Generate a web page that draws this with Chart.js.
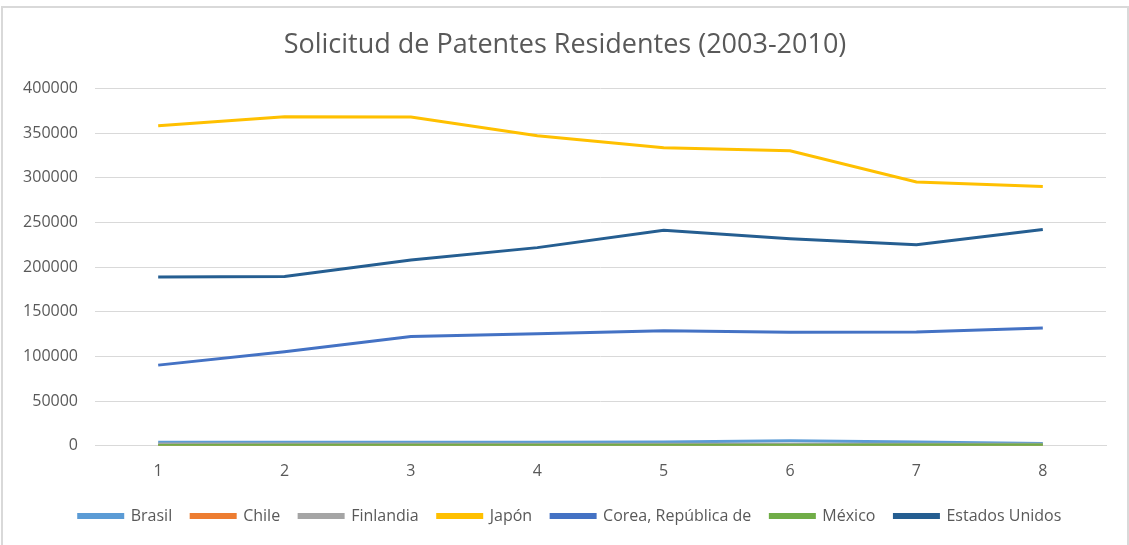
<!DOCTYPE html>
<html>
<head>
<meta charset="utf-8">
<script src="https://cdn.jsdelivr.net/npm/chart.js@4"></script>
<style>
  html, body { margin: 0; padding: 0; background: #fff; }
  #frame {
    position: absolute; left: 1px; top: 6px;
    width: 1124px; height: 545px;
    border: 2px solid #d9d9d9; border-bottom: none;
  }
  #wrap { position: absolute; left: -3px; top: -8px; width: 1129px; height: 545px; }
</style>
</head>
<body>
<div id="frame"><div id="wrap"><canvas id="c"></canvas></div></div>
<script>
/* ── Data ───────────────────────────────────────────── */
const categories = ['1', '2', '3', '4', '5', '6', '7', '8'];

const brasil     = [3900, 4000, 4050, 4000, 4200, 5600, 4300, 2700];
const chile      = [300, 300, 320, 350, 400, 450, 500, 330];
const finlandia  = [2000, 2000, 1950, 1850, 1800, 1800, 1700, 1600];
const japon      = [358200, 368400, 368000, 347100, 333500, 330100, 295300, 290100];
const corea      = [90300, 105300, 122200, 125500, 128700, 127100, 127300, 131800];
const mexico     = [470, 560, 580, 570, 640, 690, 820, 950];
const eeuu       = [188900, 189500, 207900, 221800, 241300, 231600, 224900, 242000];

const yTicks = [0, 50000, 100000, 150000, 200000, 250000, 300000, 350000, 400000];

/* ── Chart ──────────────────────────────────────────── */
const series = [
  ['Brasil', brasil, '#5b9bd5'],
  ['Chile', chile, '#ed7d31'],
  ['Finlandia', finlandia, '#a5a5a5'],
  ['Japón', japon, '#ffc000'],
  ['Corea, República de', corea, '#4472c4'],
  ['México', mexico, '#70ad47'],
  ['Estados Unidos', eeuu, '#255e91'],
];

const FONT = "'Open Sans', 'Liberation Sans', sans-serif";
const GREY = '#595959';

// nudge title + legend to the right, the way Excel centres them
const shiftBlocks = {
  id: 'shiftBlocks',
  afterLayout(chart) {
    const t = chart.titleBlock, l = chart.legend;
    if (t) { t.left += 12; t.right += 12; }
    if (l) { l.left += 17; l.right += 17; }
  },
};

new Chart(document.getElementById('c'), {
  type: 'line',
  data: {
    labels: categories,
    datasets: series.map(([label, data, color], i) => ({
      label, data,
      borderColor: color,
      backgroundColor: color,
      borderWidth: 3,
      pointRadius: 0,
      tension: 0,
      order: -i, // last series on top, like Excel
    })),
  },
  plugins: [shiftBlocks],
  options: {
    responsive: true,
    maintainAspectRatio: false,
    animation: false,
    layout: { padding: { left: 0, right: 23, top: 0, bottom: 11 } },
    plugins: {
      title: {
        display: true,
        text: 'Solicitud de Patentes Residentes (2003-2010)',
        color: GREY,
        font: { family: FONT, size: 27, weight: 'normal' },
        padding: { top: 29, bottom: 27 },
      },
      legend: {
        position: 'bottom',
        labels: {
          color: GREY,
          font: { family: FONT, size: 16 },
          boxWidth: 44,
          boxHeight: 3,
          padding: 19,
          sort: (a, b) => a.datasetIndex - b.datasetIndex,
        },
      },
      tooltip: { enabled: false },
    },
    scales: {
      x: {
        offset: true,
        grid: { display: false },
        border: { color: '#d9d9d9' },
        ticks: { color: GREY, font: { family: FONT, size: 16 }, padding: 8 },
      },
      y: {
        min: 0, max: 400000,
        afterBuildTicks: ax => { ax.ticks = yTicks.map(v => ({ value: v })); },
        afterFit: ax => { ax.width = 95; },
        grid: { color: '#d9d9d9', drawTicks: false },
        border: { display: false },
        ticks: { color: GREY, font: { family: FONT, size: 16 }, padding: 17, callback: v => String(v) },
      },
    },
  },
});
</script>
</body>
</html>
